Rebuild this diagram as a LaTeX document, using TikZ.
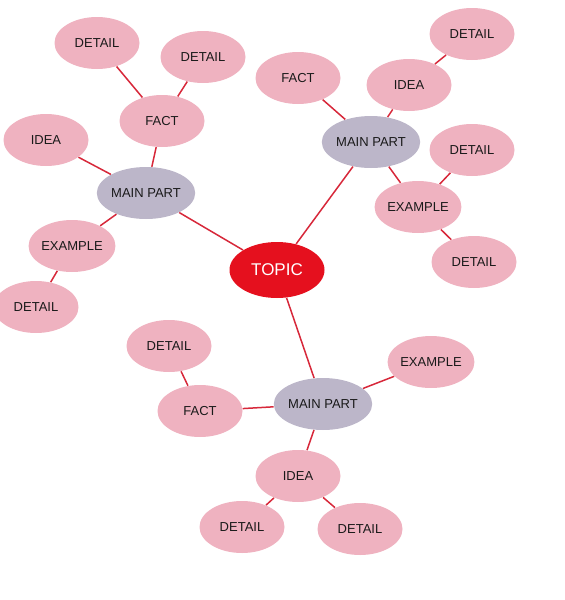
\documentclass[tikz,border=0pt]{standalone}
\usepackage{fontspec}
\setmainfont{Liberation Sans}
\usetikzlibrary{shapes.geometric}
\definecolor{ink}{HTML}{1A1A1A}
\definecolor{corered}{HTML}{E5101E}
\definecolor{linkred}{HTML}{D7283A}
\definecolor{leaffill}{HTML}{EFB2C0}
\definecolor{partfill}{HTML}{BCB6C9}
\tikzset{
  leaf/.style={ellipse,fill=leaffill,minimum width=42.5pt,minimum height=26pt,
    inner sep=0pt,font=\fontsize{6.5}{7}\selectfont,text=ink},
  part/.style={leaf,fill=partfill},
  core/.style={leaf,fill=corered,text=white,minimum width=47.5pt,minimum height=28pt,
    font=\fontsize{8.5}{9}\selectfont},
  link/.style={draw=linkred,line width=0.75pt}
}
\begin{document}
\begin{tikzpicture}[x=0.5pt,y=-0.5pt]
  \useasboundingbox (0,0) rectangle (564,600);
  \node[core] (topic) at (277,270) {TOPIC};
  % left branch
  \node[part] (mpl) at (146,193) {MAIN PART};
  \node[leaf] (ldet1) at (97,43) {DETAIL};
  \node[leaf] (ldet2) at (203,57) {DETAIL};
  \node[leaf] (lfact) at (162,121) {FACT};
  \node[leaf] (lidea) at (46,140) {IDEA};
  \node[leaf] (lex) at (72,246) {EXAMPLE};
  \node[leaf] (ldet3) at (36,307) {DETAIL};
  % upper right branch
  \node[part] (mpr) at (371,142) {MAIN PART};
  \node[leaf] (rfact) at (298,78) {FACT};
  \node[leaf] (ridea) at (409,85) {IDEA};
  \node[leaf] (rdet1) at (472,34) {DETAIL};
  \node[leaf] (rdet2) at (472,150) {DETAIL};
  \node[leaf] (rex) at (418,207) {EXAMPLE};
  \node[leaf] (rdet3) at (474,262) {DETAIL};
  % lower branch
  \node[part] (mpb) at (323,404) {MAIN PART};
  \node[leaf] (bdet1) at (169,346) {DETAIL};
  \node[leaf] (bfact) at (200,411) {FACT};
  \node[leaf] (bex) at (431,362) {EXAMPLE};
  \node[leaf] (bidea) at (298,476) {IDEA};
  \node[leaf] (bdet2) at (242,527) {DETAIL};
  \node[leaf] (bdet3) at (360,529) {DETAIL};
  % connectors
  \foreach \a/\b in {topic/mpl,topic/mpr,topic/mpb,
      mpl/lfact,mpl/lidea,mpl/lex,lfact/ldet1,lfact/ldet2,lex/ldet3,
      mpr/rfact,mpr/ridea,mpr/rex,ridea/rdet1,rex/rdet2,rex/rdet3,
      mpb/bfact,mpb/bex,mpb/bidea,bfact/bdet1,bidea/bdet2,bidea/bdet3}{
    \draw[link] (\a) -- (\b);
  }
\end{tikzpicture}
\end{document}
